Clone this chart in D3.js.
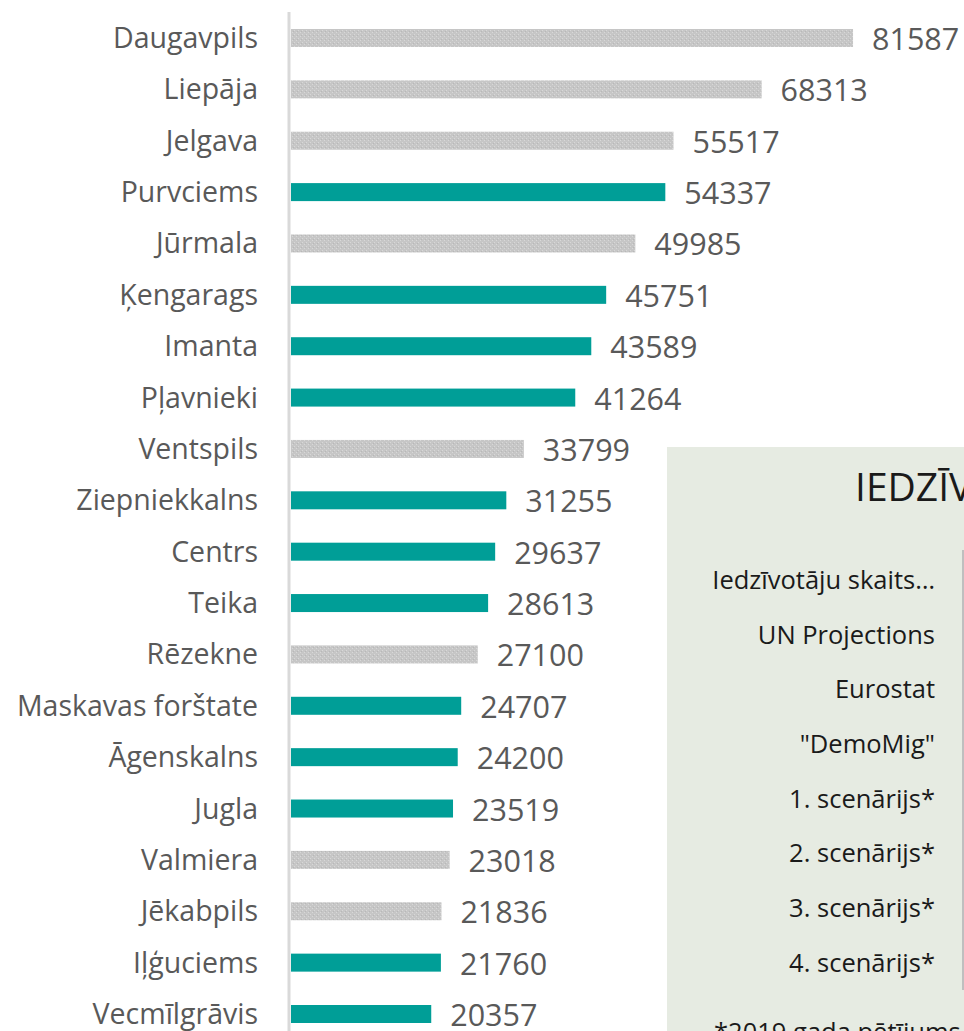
<!DOCTYPE html>
<meta charset="utf-8">
<script src="https://d3js.org/d3.v7.min.js"></script>
<style>
  body { margin: 0; background: #fff; }
  svg { display: block; font-family: "Open Sans", "Noto Sans", sans-serif; }
</style>
<svg width="964" height="1031"></svg>
<script>
// places, population, and whether it's a Riga neighbourhood
var places = ["Daugavpils", "Liepāja", "Jelgava", "Purvciems", "Jūrmala", "Ķengarags", "Imanta",
  "Pļavnieki", "Ventspils", "Ziepniekkalns", "Centrs", "Teika", "Rēzekne", "Maskavas forštate",
  "Āgenskalns", "Jugla", "Valmiera", "Jēkabpils", "Iļģuciems", "Vecmīlgrāvis"];
var population = [81587, 68313, 55517, 54337, 49985, 45751, 43589, 41264, 33799, 31255,
  29637, 28613, 27100, 24707, 24200, 23519, 23018, 21836, 21760, 20357];
var isRiga = [false, false, false, true, false, true, true, true, false, true,
  true, true, false, true, true, true, false, false, true, true];

// the panel that overlaps the chart
var panelTitle = "IEDZĪVOTĀJU SKAITS";
var panelRows = ["Iedzīvotāju skaits…", "UN Projections", "Eurostat", "\"DemoMig\"",
  "1. scenārijs*", "2. scenārijs*", "3. scenārijs*", "4. scenārijs*"];
var panelNote = "*2019.gada pētījums \"Demogrāfija un migrācija\"";

var svg = d3.select("svg");

var defs = svg.append("defs");
var pat = defs.append("pattern")
    .attr("id", "dots")
    .attr("patternUnits", "userSpaceOnUse")
    .attr("width", 4).attr("height", 4);
pat.append("rect").attr("width", 4).attr("height", 4).attr("fill", "#c6c6c6");
pat.append("rect").attr("x", 0).attr("y", 0).attr("width", 1).attr("height", 1).attr("fill", "#d8d8d8");
pat.append("rect").attr("x", 2).attr("y", 2).attr("width", 1).attr("height", 1).attr("fill", "#d8d8d8");
pat.append("rect").attr("x", 1).attr("y", 3).attr("width", 1).attr("height", 1).attr("fill", "#b8b8b8");

var x = d3.scaleLinear().domain([0, 90000]).range([291, 911]);
var y = d3.scalePoint().domain(places).range([38, 1014]);
var barH = 18;

var rows = places.map(function(p, i) {
  return { name: p, value: population[i], riga: isRiga[i] };
});

// axis line
svg.append("line")
    .attr("x1", 289).attr("x2", 289)
    .attr("y1", 12).attr("y2", 1031)
    .style("stroke", "#d9d9d9")
    .style("stroke-width", 3);

svg.append("g")
  .selectAll("rect")
  .data(rows)
  .enter().append("rect")
    .attr("x", x(0))
    .attr("y", function(d) { return y(d.name) - barH / 2; })
    .attr("width", function(d) { return x(d.value) - x(0); })
    .attr("height", barH)
    .style("fill", function(d) { return d.riga ? "#009e97" : "url(#dots)"; });

svg.append("g")
  .selectAll("text")
  .data(rows)
  .enter().append("text")
    .attr("x", 258)
    .attr("y", function(d) { return y(d.name); })
    .attr("dy", "0.35em")
    .attr("text-anchor", "end")
    .style("font-size", "28.5px")
    .style("fill", "#595959")
    .text(function(d) { return d.name; });

svg.append("g")
  .selectAll("text")
  .data(rows)
  .enter().append("text")
    .attr("x", function(d) { return x(d.value) + 19; })
    .attr("y", function(d) { return y(d.name) + 1; })
    .attr("dy", "0.36em")
    .style("font-size", "30.5px")
    .style("fill", "#595959")
    .text(function(d) { return d.value; });

// overlapping panel
var panel = svg.append("g");
panel.append("rect")
    .attr("x", 667).attr("y", 447)
    .attr("width", 310).attr("height", 600)
    .style("fill", "#e6ebe2");

panel.append("text")
    .attr("x", 855).attr("y", 501)
    .style("font-size", "39px")
    .style("fill", "#1a1a1a")
    .text(panelTitle);

var py = d3.scalePoint().domain(panelRows).range([580, 963]);

panel.append("line")
    .attr("x1", 963).attr("x2", 963)
    .attr("y1", 550).attr("y2", 990)
    .style("stroke", "#bfbfbf")
    .style("stroke-width", 2);

panel.append("g")
  .selectAll("text")
  .data(panelRows)
  .enter().append("text")
    .attr("x", 935)
    .attr("y", function(d) { return py(d); })
    .attr("dy", "0.35em")
    .attr("text-anchor", "end")
    .style("font-size", "25.5px")
    .style("fill", "#1a1a1a")
    .text(function(d) { return d; });

panel.append("text")
    .attr("x", 714).attr("y", 1041)
    .style("font-size", "25.5px")
    .style("fill", "#1a1a1a")
    .text(panelNote);
</script>
